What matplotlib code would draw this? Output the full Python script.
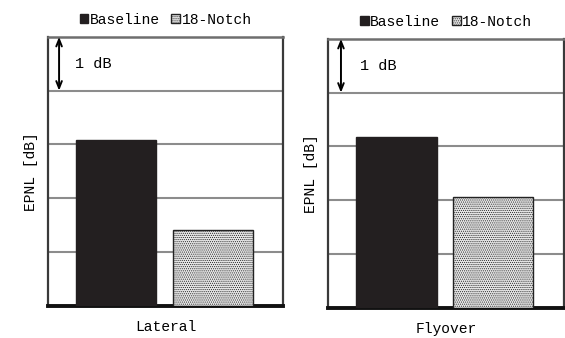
import matplotlib.pyplot as plt
from matplotlib.patches import Patch

# data (EPNL relative, 1 dB per grid step)
panels = ["Lateral", "Flyover"]
baseline = [3.09, 3.18]
notch = [1.41, 2.07]
series_names = ["Baseline", "18-Notch"]

plt.rcParams['font.family'] = ['Liberation Mono', 'DejaVu Sans Mono']
plt.rcParams['hatch.color'] = '#9a9a9a'
plt.rcParams['hatch.linewidth'] = 0.5

fig = plt.figure(figsize=(5.65, 3.38), dpi=100)
axes = [fig.add_axes([0.085, 0.095, 0.416, 0.796]),
        fig.add_axes([0.5805, 0.089, 0.4177, 0.796])]
arrow_x = [0.047, 0.055]
text_x = [0.115, 0.136]

for i, ax in enumerate(axes):
    ax.bar(0, baseline[i], width=0.83, color='#231f20', edgecolor='#231f20', zorder=3)
    ax.bar(1, notch[i], width=0.83, color='#e6e6e6', edgecolor='#222222',
           hatch='........', linewidth=1.0, zorder=3)
    ax.set_xlim(-0.707, 1.73)
    ax.set_ylim(0, 5)
    for g in [1, 2, 3, 4]:
        ax.axhline(g, color='#8c8c8c', lw=1.5, zorder=1)
    ax.set_xticks([])
    ax.set_yticks([])
    ax.set_xlabel(panels[i], fontsize=10.5, labelpad=10)
    ax.set_ylabel("EPNL [dB]", fontsize=10.5, labelpad=7)
    for s in ['left', 'right']:
        ax.spines[s].set_color('#3a3a3a')
        ax.spines[s].set_linewidth(1.6)
    ax.spines['top'].set_color('#6e6e6e')
    ax.spines['top'].set_linewidth(1.8)
    ax.spines['bottom'].set_color('#111111')
    ax.spines['bottom'].set_linewidth(2.8)

    # 1 dB scale marker
    ax.annotate("", xy=(arrow_x[i], 5), xytext=(arrow_x[i], 4),
                xycoords=('axes fraction', 'data'),
                textcoords=('axes fraction', 'data'),
                arrowprops=dict(arrowstyle='<->,head_length=0.5,head_width=0.2',
                                color='black', lw=1.4, shrinkA=0, shrinkB=0))
    ax.text(text_x[i], 4.5, "1 dB", transform=ax.get_yaxis_transform(),
            fontsize=11, va='center', ha='left')

    handles = [Patch(facecolor='#231f20', edgecolor='#231f20'),
               Patch(facecolor='#e6e6e6', edgecolor='#222222', hatch='........')]
    ax.legend(handles, series_names, loc='lower center', bbox_to_anchor=(0.5, 1.0),
              ncol=2, frameon=False, fontsize=10.5, handlelength=0.6,
              handleheight=0.6, handletextpad=0.1, columnspacing=0.8,
              borderaxespad=0.3)

fig.savefig("out.png", dpi=100)
